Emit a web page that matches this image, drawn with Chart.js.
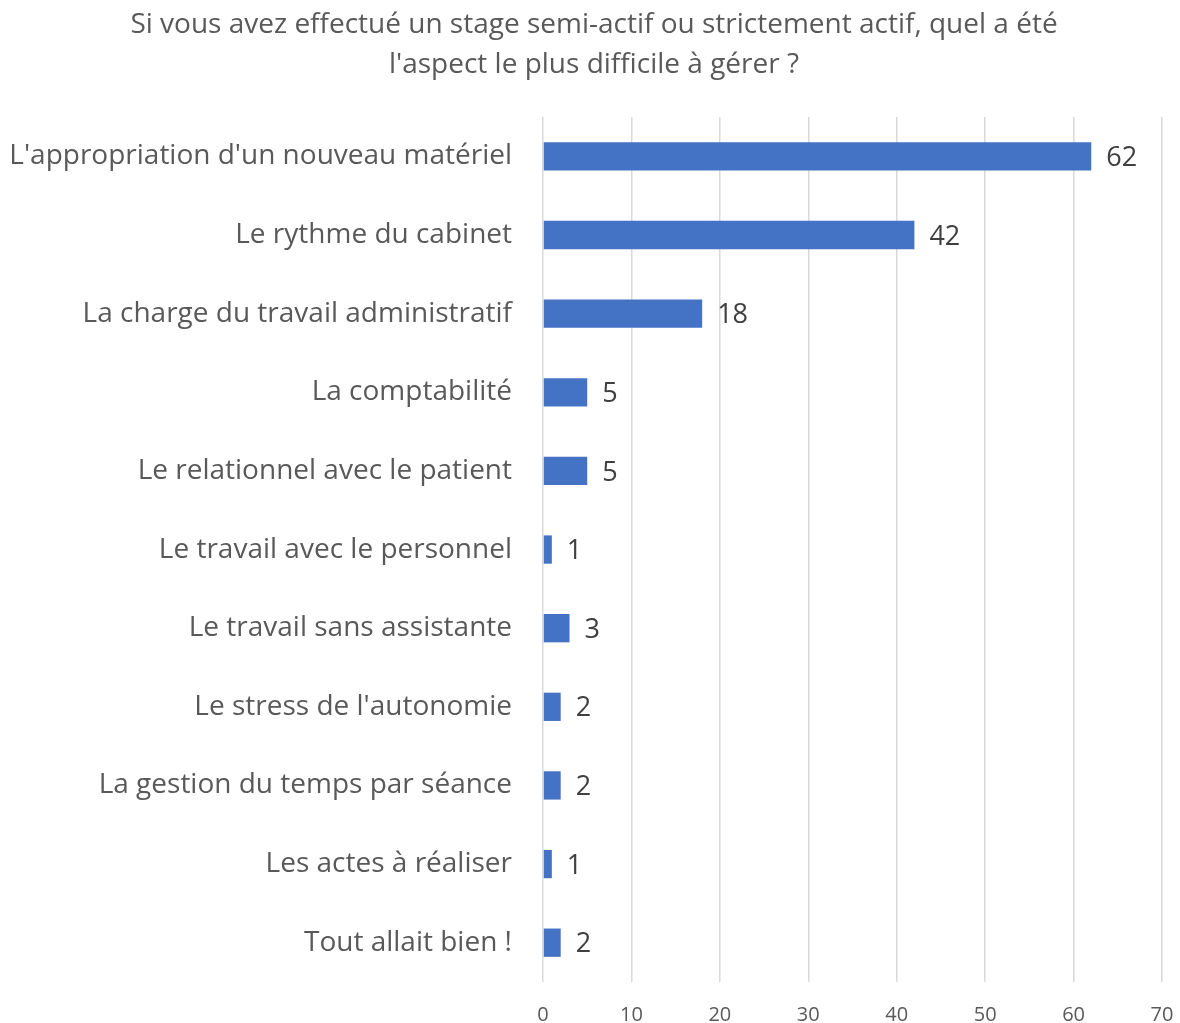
<!DOCTYPE html>
<html>
<head>
<meta charset="utf-8">
<script src="https://cdn.jsdelivr.net/npm/chart.js@4/dist/chart.umd.min.js"></script>
<style>
  html, body { margin: 0; padding: 0; background: #fff; overflow: hidden; }
  canvas { display: block; }
</style>
</head>
<body>
<canvas id="chart" width="1180" height="1023"></canvas>
<script>
// données du graphique
const titleLines = [
  "Si vous avez effectué un stage semi-actif ou strictement actif, quel a été",
  "l'aspect le plus difficile à gérer ?"
];
const categories = [
  "L'appropriation d'un nouveau matériel",
  "Le rythme du cabinet",
  "La charge du travail administratif",
  "La comptabilité",
  "Le relationnel avec le patient",
  "Le travail avec le personnel",
  "Le travail sans assistante",
  "Le stress de l'autonomie",
  "La gestion du temps par séance",
  "Les actes à réaliser",
  "Tout allait bien !"
];
const values = [62, 42, 18, 5, 5, 1, 3, 2, 2, 1, 2];

const FONT = "'Open Sans', Lato, sans-serif";

// étiquettes de valeurs au bout des barres
const barLabels = {
  id: "barLabels",
  afterDatasetsDraw(chart) {
    const ctx = chart.ctx;
    const meta = chart.getDatasetMeta(0);
    ctx.save();
    ctx.font = "27px " + FONT;
    ctx.fillStyle = "#404040";
    ctx.textAlign = "left";
    ctx.textBaseline = "middle";
    meta.data.forEach((bar, i) => {
      ctx.fillText(String(values[i]), bar.x + 15, bar.y + 2);
    });
    ctx.restore();
  }
};

new Chart(document.getElementById("chart").getContext("2d"), {
  type: "bar",
  data: {
    labels: categories,
    datasets: [{
      data: values,
      backgroundColor: "#4472c4",
      borderWidth: 0,
      barPercentage: 0.36,
      categoryPercentage: 1
    }]
  },
  options: {
    indexAxis: "y",
    responsive: false,
    animation: false,
    // petit décalage à gauche pour centrer le titre comme dans Excel
    layout: { padding: { left: 8, right: 0, top: 0, bottom: 0 } },
    plugins: {
      legend: { display: false },
      tooltip: { enabled: false },
      title: {
        display: true,
        text: titleLines,
        color: "#595959",
        font: { family: FONT, size: 28, weight: "normal", lineHeight: 1.43 },
        padding: { top: 5, bottom: 32 }
      }
    },
    scales: {
      x: {
        min: 0,
        max: 70,
        ticks: {
          stepSize: 10,
          color: "#595959",
          font: { family: FONT, size: 20 },
          padding: 21
        },
        grid: { color: "#d9d9d9", lineWidth: 1.5, drawTicks: false },
        border: { display: false },
        afterFit(scale) {
          scale.height = 41;
          scale.paddingLeft = 0;
          scale.paddingRight = 18;
        }
      },
      y: {
        ticks: {
          color: "#595959",
          font: { family: FONT, size: 28 },
          padding: 31
        },
        grid: { display: false, drawTicks: false },
        border: { display: false },
        afterFit(scale) {
          scale.width = 535;
          scale.paddingTop = 0;
          scale.paddingBottom = 0;
        }
      }
    }
  },
  plugins: [barLabels]
});
</script>
</body>
</html>
